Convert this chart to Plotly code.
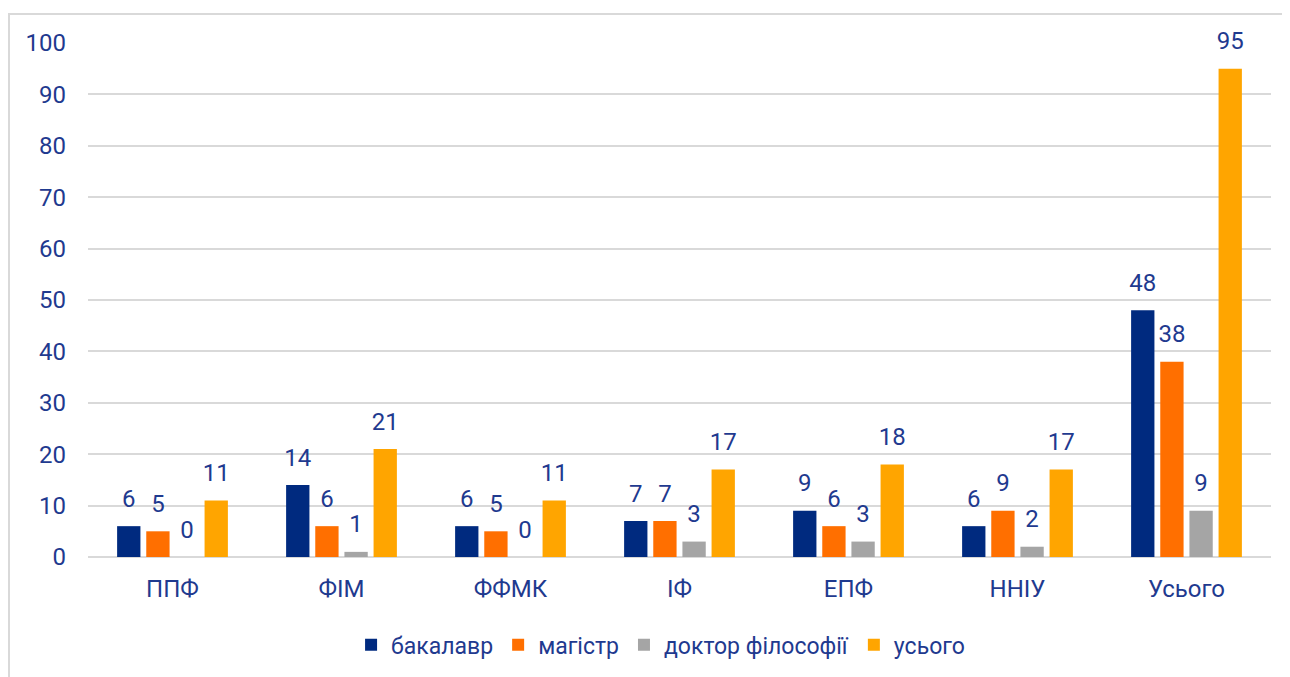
import plotly.graph_objects as go

categories = ["ППФ", "ФІМ", "ФФМК", "ІФ", "ЕПФ", "ННІУ", "Усього"]
bachelor = [6, 14, 6, 7, 9, 6, 48]
master = [5, 6, 5, 7, 6, 9, 38]
phd = [0, 1, 0, 3, 3, 2, 9]
total = [11, 21, 11, 17, 18, 17, 95]

series = [
    ("бакалавр", bachelor, "#002A7F"),
    ("магістр", master, "#FF6F00"),
    ("доктор філософії", phd, "#A5A5A5"),
    ("усього", total, "#FFA500"),
]

txt_color = "#1F3A8F"
font_family = "Roboto, Open Sans, sans-serif"
FS = 24
GAP = 0.31

fig = go.Figure()
for name, vals, col in series:
    fig.add_trace(go.Bar(
        x=categories, y=vals, name=name,
        marker=dict(color=col, line=dict(width=0)),
        hoverinfo="x+y+name",
    ))
# value labels, grouped like the bars
for name, vals, col in series:
    fig.add_trace(go.Scatter(
        x=categories, y=vals, mode="markers+text",
        text=[str(v) for v in vals], textposition="top center",
        textfont=dict(size=FS, color=txt_color, family=font_family),
        marker=dict(size=20, color="rgba(0,0,0,0)"),
        showlegend=False, hoverinfo="skip", cliponaxis=False,
    ))

fig.update_layout(
    width=1290, height=677,
    margin=dict(l=80, r=27, t=35, b=128, autoexpand=False),
    paper_bgcolor="white", plot_bgcolor="white",
    barmode="group", bargap=GAP, bargroupgap=0.2,
    scattermode="group", scattergap=GAP,
    font=dict(family=font_family, size=FS, color=txt_color),
    legend=dict(orientation="h", x=0.484, xanchor="center", y=-0.171, yanchor="middle",
                font=dict(size=23, color=txt_color), traceorder="normal"),
    shapes=[dict(type="rect", xref="paper", yref="paper",
                 x0=-0.0668, x1=1.05, y0=-0.4, y1=1.0564,
                 line=dict(color="#D9D9D9", width=2), fillcolor="rgba(0,0,0,0)", layer="below")],
)
fig.update_yaxes(range=[0, 100], dtick=10, showgrid=True, gridcolor="#D9D9D9", gridwidth=2,
                 zeroline=True, zerolinecolor="#D9D9D9", zerolinewidth=2, automargin=False,
                 showline=False, ticklabelstandoff=21, tickfont=dict(size=FS, color=txt_color))
fig.update_xaxes(showgrid=False, showline=False, ticks="", ticklabelstandoff=15, automargin=False,
                 tickfont=dict(size=FS, color=txt_color))

fig.write_html("out.html")
